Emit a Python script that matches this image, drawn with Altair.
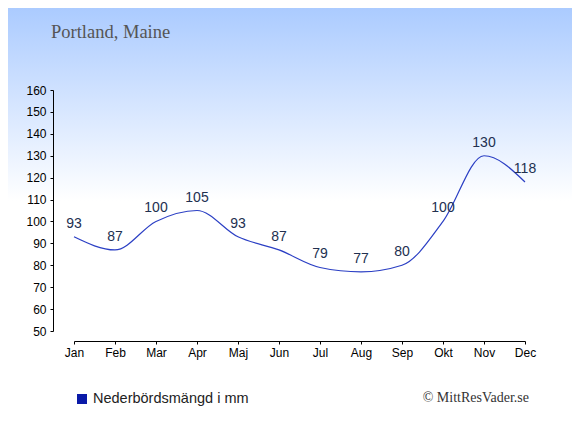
import altair as alt
import pandas as pd

months = ["Jan", "Feb", "Mar", "Apr", "Maj", "Jun", "Jul", "Aug", "Sep", "Okt", "Nov", "Dec"]
precip = [93, 87, 100, 105, 93, 87, 79, 77, 80, 100, 130, 118]
y_ticks = [50, 60, 70, 80, 90, 100, 110, 120, 130, 140, 150, 160]
title_text = "Portland, Maine"
legend_text = "Nederbördsmängd i mm"
credit_text = "© MittResVader.se"

df = pd.DataFrame({"month": months, "mm": precip})
one = pd.DataFrame({"a": [0]})

W, H = 451, 241
PL, PT = 66, 82
TOTAL_W, TOTAL_H = 564, 419

x_axis = alt.Axis(title=None, labelAngle=0, offset=10, domainColor="black",
                  tickColor="black", tickSize=3, labelFont="Liberation Sans",
                  labelFontSize=12, labelColor="#000", labelPadding=3, grid=False,
                  labelOverlap=False, values=months, zindex=1)
y_axis = alt.Axis(title=None, values=y_ticks, offset=21,
                  domainColor="black", tickColor="black", tickSize=3,
                  labelFont="Liberation Sans", labelFontSize=12, labelColor="#000",
                  labelPadding=4, grid=False, labelOverlap=False, zindex=1)

x_enc = alt.X("month:O", sort=months, scale=alt.Scale(padding=0), axis=x_axis)
y_enc = alt.Y("mm:Q", scale=alt.Scale(domain=[50, 160], nice=False, zero=False), axis=y_axis)

bg = alt.Chart(one).mark_rect(
    color=alt.LinearGradient(gradient="linear", x1=0, x2=0, y1=0, y2=1,
                             stops=[alt.GradientStop(offset=0, color="#abcbff"),
                                    alt.GradientStop(offset=0.46, color="#ffffff"),
                                    alt.GradientStop(offset=1, color="#ffffff")])
).encode(x=alt.value(-PL), x2=alt.value(TOTAL_W - PL), y=alt.value(-PT), y2=alt.value(TOTAL_H - PT))

line = alt.Chart(df).mark_line(interpolate="monotone", color="#2b3fc4", strokeWidth=1.2).encode(
    x=x_enc, y=y_enc)

labels = alt.Chart(df).mark_text(font="Liberation Sans", fontSize=14, color="#223050",
                                 baseline="alphabetic", dy=-9).encode(
    x=x_enc, y=y_enc, text="mm:Q")

title = alt.Chart(one).mark_text(text=title_text, font="Liberation Serif", fontSize=18.5,
                                 color="#555555", align="left", baseline="alphabetic").encode(
    x=alt.value(-23), y=alt.value(-52))

legend_sq = alt.Chart(one).mark_rect(color="#0a1aa8").encode(
    x=alt.value(3), x2=alt.value(13), y=alt.value(304), y2=alt.value(314))

legend_txt = alt.Chart(one).mark_text(text=legend_text, font="Liberation Sans", fontSize=14.5,
                                      color="#222222", align="left", baseline="alphabetic").encode(
    x=alt.value(19), y=alt.value(313))

credit = alt.Chart(one).mark_text(text=credit_text, font="Liberation Serif", fontSize=14,
                                  color="#333333", align="right", baseline="alphabetic").encode(
    x=alt.value(455), y=alt.value(312))

chart = alt.layer(bg, line, labels, title, legend_sq, legend_txt, credit).properties(
    width=W, height=H,
    autosize=alt.AutoSizeParams(type="none"),
    padding={"left": PL, "top": PT, "right": TOTAL_W - PL - W, "bottom": TOTAL_H - PT - H},
).configure_view(stroke=None).configure(background="white")

chart.save("out.html", embed_options={"renderer": "svg", "actions": False})
